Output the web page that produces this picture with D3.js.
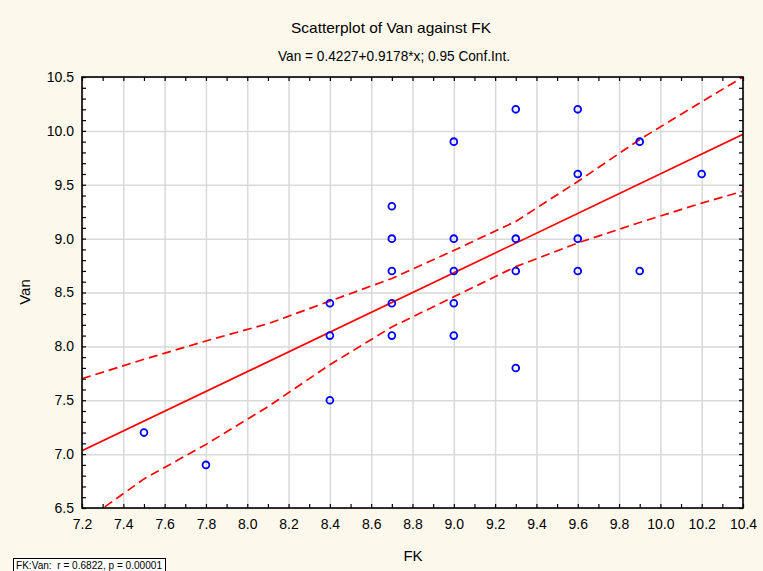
<!DOCTYPE html>
<html><head><meta charset="utf-8">
<script src="https://cdn.jsdelivr.net/npm/d3@7"></script>
<style>
html,body{margin:0;padding:0;background:#fdf8ec;}
svg{display:block;font-family:"Liberation Sans",Arial,sans-serif;}
</style></head>
<body>
<svg id="chart" width="763" height="571"></svg>
<script>
// Data
const fk  = [7.5, 7.8, 8.4, 8.4, 8.4, 8.7, 8.7, 8.7, 8.7, 8.7, 9.0, 9.0, 9.0, 9.0, 9.0, 9.3, 9.3, 9.3, 9.3, 9.6, 9.6, 9.6, 9.6, 9.9, 9.9, 10.2];
const van = [7.2, 6.9, 8.4, 8.1, 7.5, 9.3, 9.0, 8.7, 8.4, 8.1, 9.9, 9.0, 8.7, 8.4, 8.1, 10.2, 9.0, 8.7, 7.8, 10.2, 9.6, 9.0, 8.7, 9.9, 8.7, 9.6];
const intercept = 0.4227, slope = 0.9178;
const bandX     = [7.2, 7.5, 7.8, 8.1, 8.4, 8.7, 9.0, 9.3, 9.6, 9.9, 10.2, 10.4];
const bandUpper = [7.70, 7.88, 8.05, 8.21, 8.42, 8.63, 8.89, 9.16, 9.53, 9.92, 10.27, 10.50];
const bandLower = [6.36, 6.77, 7.09, 7.44, 7.83, 8.18, 8.46, 8.74, 8.96, 9.15, 9.33, 9.44];
const xTicks = [7.2,7.4,7.6,7.8,8.0,8.2,8.4,8.6,8.8,9.0,9.2,9.4,9.6,9.8,10.0,10.2,10.4];
const yTicks = [6.5,7.0,7.5,8.0,8.5,9.0,9.5,10.0,10.5];
const title = "Scatterplot of Van against FK";
const subtitle = "Van = 0.4227+0.9178*x; 0.95 Conf.Int.";
const xLabel = "FK", yLabel = "Van";
const statText = "FK:Van:\u00a0\u00a0r = 0.6822, p = 0.00001";

const svg = d3.select("#chart");
const L = 82, R = 743, T = 77, B = 508;
const x = d3.scaleLinear().domain([7.2, 10.4]).range([L, R]);
const y = d3.scaleLinear().domain([6.5, 10.5]).range([B, T]);

svg.append("rect").attr("x",0).attr("y",0).attr("width",763).attr("height",571).attr("fill","#fdf8ec");
svg.append("rect").attr("x",L).attr("y",T).attr("width",R-L).attr("height",B-T).attr("fill","#fff");

svg.append("defs").append("clipPath").attr("id","clip")
  .append("rect").attr("x",L).attr("y",T).attr("width",R-L).attr("height",B-T);

// grid
const gx = svg.append("g").attr("transform",`translate(0,${B})`)
  .call(d3.axisBottom(x).tickValues(xTicks).tickSize(-(B-T)).tickFormat(""));
const gy = svg.append("g").attr("transform",`translate(${L},0)`)
  .call(d3.axisLeft(y).tickValues(yTicks).tickSize(-(R-L)).tickFormat(""));
[gx,gy].forEach(g=>{g.select(".domain").remove();g.selectAll("line").attr("stroke","#d9d9d9").attr("stroke-width",1.5);});

// minor tick values
const xMinor = d3.range(72, 105).map(d=>d/10);
const yMinor = d3.range(65, 106).map(d=>d/10);
function ticks(g){g.select(".domain").remove();g.selectAll("line").attr("stroke","#000").attr("stroke-width",1.2);}
svg.append("g").attr("transform",`translate(0,${B})`).call(d3.axisBottom(x).tickValues(xMinor).tickSize(-4).tickFormat("")).call(ticks);
svg.append("g").attr("transform",`translate(0,${T})`).call(d3.axisTop(x).tickValues(xMinor).tickSize(-4).tickFormat("")).call(ticks);
svg.append("g").attr("transform",`translate(${L},0)`).call(d3.axisLeft(y).tickValues(yMinor).tickSize(-4).tickFormat("")).call(ticks);
svg.append("g").attr("transform",`translate(${R},0)`).call(d3.axisRight(y).tickValues(yMinor).tickSize(-4).tickFormat("")).call(ticks);

// tick labels
const xl = svg.append("g").attr("transform",`translate(0,${B})`)
  .call(d3.axisBottom(x).tickValues(xTicks).tickSize(0).tickPadding(11).tickFormat(d3.format(".1f")));
const yl = svg.append("g").attr("transform",`translate(${L},0)`)
  .call(d3.axisLeft(y).tickValues(yTicks).tickSize(0).tickPadding(8).tickFormat(d3.format(".1f")));
[xl,yl].forEach(g=>{g.select(".domain").remove();g.selectAll("text").attr("font-size",14).attr("fill","#000").attr("font-family","Liberation Sans, Arial, sans-serif");});

// plot content
const plot = svg.append("g").attr("clip-path","url(#clip)");
const band = d3.line().x(d=>x(d[0])).y(d=>y(d[1]));
plot.append("path").datum(bandX.map((v,i)=>[v,bandUpper[i]])).attr("d",band)
  .attr("fill","none").attr("stroke","#ff0000").attr("stroke-width",1.7).attr("stroke-dasharray","9,5");
plot.append("path").datum(bandX.map((v,i)=>[v,bandLower[i]])).attr("d",band)
  .attr("fill","none").attr("stroke","#ff0000").attr("stroke-width",1.7).attr("stroke-dasharray","9,5");
const xd = x.domain();
plot.append("path").datum(xd.map(v=>[v, intercept+slope*v])).attr("d",band)
  .attr("fill","none").attr("stroke","#ff0000").attr("stroke-width",1.7);

svg.append("g").selectAll("circle").data(fk.map((v,i)=>[v,van[i]])).join("circle")
  .attr("cx",d=>x(d[0])).attr("cy",d=>y(d[1])).attr("r",3.4)
  .attr("fill","none").attr("stroke","#0000ff").attr("stroke-width",1.8);

// frame
svg.append("rect").attr("x",L).attr("y",T).attr("width",R-L).attr("height",B-T)
  .attr("fill","none").attr("stroke","#000").attr("stroke-width",1.6);

// titles
svg.append("text").attr("x",391).attr("y",33).attr("text-anchor","middle").attr("font-size",14.5)
  .attr("textLength",200).attr("lengthAdjust","spacingAndGlyphs").text(title);
svg.append("text").attr("x",394).attr("y",61).attr("text-anchor","middle").attr("font-size",14.5)
  .attr("textLength",232).attr("lengthAdjust","spacingAndGlyphs").text(subtitle);
svg.append("text").attr("x",413).attr("y",561).attr("text-anchor","middle").attr("font-size",15).text(xLabel);
svg.append("text").attr("transform","translate(30,292) rotate(-90)").attr("text-anchor","middle").attr("font-size",15).text(yLabel);

// stat box
svg.append("rect").attr("x",13.5).attr("y",558.5).attr("width",152).attr("height",14).attr("fill","#fff").attr("stroke","#000").attr("stroke-width",1);
svg.append("text").attr("x",16).attr("y",569).attr("font-size",10)
  .attr("textLength",146).attr("lengthAdjust","spacingAndGlyphs").text(statText);
</script>
</body></html>
